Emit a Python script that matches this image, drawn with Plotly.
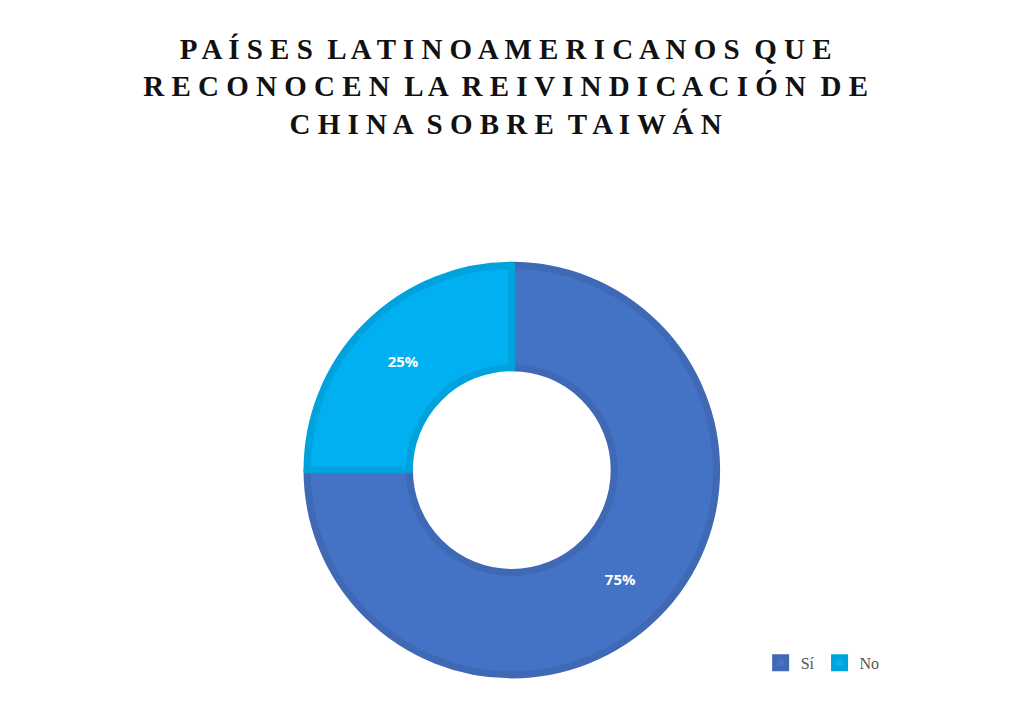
import plotly.graph_objects as go

labels = ["Sí", "No"]
values = [75, 25]
colors = ["#4472C4", "#00B0F0"]
borders = ["#3F68B5", "#00A2DD"]

fig = go.Figure(go.Pie(
    labels=labels, values=values, hole=0.5, sort=False, direction="clockwise",
    rotation=0,
    marker=dict(colors=colors, line=dict(color=borders, width=7)),
    textinfo="percent", texttemplate="<b>%{percent:.0%}</b>",
    textfont=dict(family="Open Sans", size=15, color="white"),
    insidetextorientation="horizontal",
    domain=dict(x=[0.292, 0.692], y=[0.02, 0.70]),
))
fig.update_layout(
    width=1024, height=722, paper_bgcolor="white", plot_bgcolor="white",
    margin=dict(l=0, r=0, t=0, b=0),
    title=dict(text="P A Í S E S  L A T I N O A M E R I C A N O S  Q U E<br>R E C O N O C E N  L A  R E I V I N D I C A C I Ó N  D E<br>C H I N A  S O B R E  T A I W Á N",
               x=0.486, xanchor="center", y=0.93, yanchor="top",
               font=dict(family="Liberation Serif", size=29, color="#111111", weight="bold")),
    legend=dict(orientation="h", x=0.735, y=0.093, xanchor="left", yanchor="middle",
                font=dict(family="Liberation Serif", size=16, color="#555555")),
)
fig.write_html("out.html")
